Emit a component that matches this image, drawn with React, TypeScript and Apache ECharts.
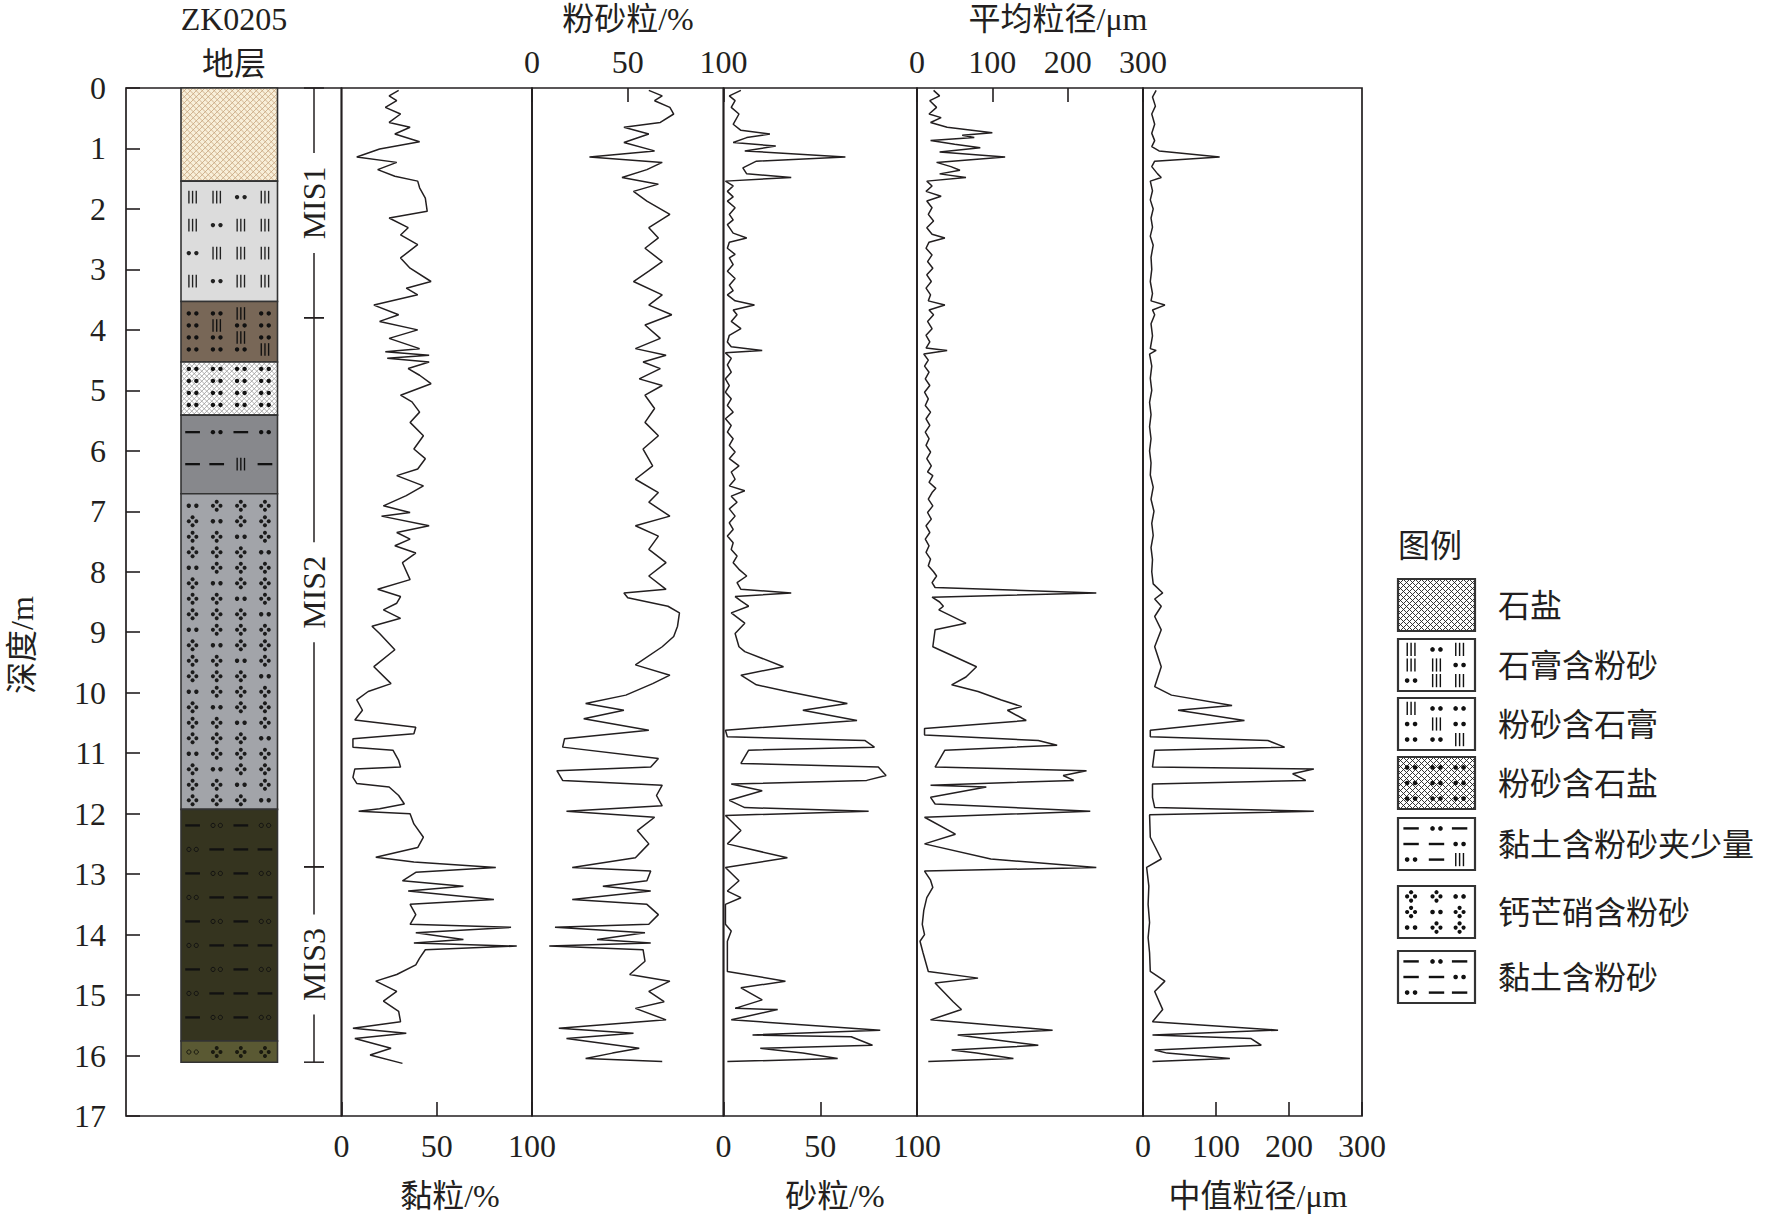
import { useEffect, useRef } from "react";
import * as echarts from "echarts";

const FONT = "'Liberation Serif', 'Noto Sans CJK SC', serif";
const INK = "#231f20";

// [深度 m, 数值]
const clay: number[][] = [
  [0.04, 30], [0.13, 25], [0.21, 29], [0.32, 23], [0.43, 31], [0.57, 25], [0.65, 36], [0.76, 28], [0.89, 41], [1.01, 20],
  [1.14, 8], [1.23, 29], [1.35, 19], [1.46, 28], [1.54, 40], [1.65, 41], [1.82, 44], [2.04, 45], [2.15, 25], [2.31, 35],
  [2.43, 31], [2.59, 40], [2.81, 31], [2.98, 36], [3.2, 47], [3.31, 34], [3.42, 40], [3.59, 17], [3.75, 30], [3.86, 20],
  [4.0, 40], [4.14, 25], [4.31, 41], [4.36, 23], [4.42, 46], [4.47, 24], [4.53, 46], [4.64, 35], [4.75, 41], [4.89, 47],
  [5.08, 31], [5.19, 37], [5.36, 41], [5.53, 36], [5.75, 43], [5.97, 38], [6.13, 44], [6.3, 40], [6.41, 29], [6.58, 43],
  [6.74, 34], [6.91, 22], [7.02, 36], [7.08, 21], [7.24, 46], [7.35, 29], [7.46, 36], [7.57, 28], [7.69, 39], [7.85, 32],
  [8.13, 36], [8.29, 19], [8.41, 31], [8.52, 29], [8.63, 22], [8.77, 31], [8.9, 16], [9.02, 20], [9.29, 28], [9.57, 17],
  [9.85, 26], [9.98, 14], [10.12, 8], [10.29, 11], [10.45, 7], [10.57, 39], [10.68, 38], [10.76, 6], [10.9, 6], [10.95, 27],
  [11.12, 30], [11.23, 31], [11.26, 7], [11.4, 6], [11.5, 8], [11.56, 25], [11.7, 30], [11.84, 33], [11.92, 20], [11.96, 9],
  [12.0, 36], [12.17, 38], [12.39, 43], [12.56, 40], [12.72, 18], [12.8, 38], [12.89, 81], [12.97, 39], [13.11, 32], [13.2, 64],
  [13.28, 35], [13.42, 80], [13.5, 36], [13.67, 39], [13.83, 36], [13.88, 89], [13.97, 39], [14.08, 64], [14.14, 38], [14.19, 92],
  [14.25, 44], [14.39, 41], [14.5, 39], [14.66, 29], [14.77, 18], [14.94, 29], [15.1, 22], [15.27, 30], [15.44, 31], [15.55, 6],
  [15.63, 34], [15.72, 7], [15.88, 26], [15.99, 15], [16.13, 32],
];

const silt: number[][] = [
  [0.04, 61], [0.13, 68], [0.21, 64], [0.32, 72], [0.43, 74], [0.57, 67], [0.65, 48], [0.76, 61], [0.9, 48], [1.04, 64],
  [1.14, 30], [1.23, 68], [1.35, 60], [1.48, 47], [1.59, 66], [1.71, 53], [1.87, 60], [2.09, 72], [2.31, 61], [2.48, 66],
  [2.65, 59], [2.87, 68], [3.03, 61], [3.2, 53], [3.42, 68], [3.59, 61], [3.75, 73], [3.92, 59], [4.14, 67], [4.31, 54],
  [4.42, 70], [4.53, 58], [4.64, 67], [4.81, 56], [4.92, 68], [5.08, 59], [5.3, 64], [5.53, 59], [5.75, 66], [5.97, 58],
  [6.25, 63], [6.47, 54], [6.69, 66], [6.85, 61], [7.08, 72], [7.24, 54], [7.41, 66], [7.63, 61], [7.85, 70], [8.07, 61],
  [8.29, 70], [8.35, 48], [8.43, 50], [8.57, 71], [8.68, 77], [8.9, 76], [9.07, 74], [9.24, 68], [9.54, 54], [9.71, 72],
  [9.85, 63], [10.04, 49], [10.18, 28], [10.29, 48], [10.43, 27], [10.62, 61], [10.76, 17], [10.9, 16], [11.09, 66], [11.23, 62],
  [11.29, 13], [11.45, 16], [11.53, 68], [11.7, 65], [11.87, 68], [11.96, 18], [12.06, 64], [12.28, 55], [12.5, 61], [12.73, 54],
  [12.89, 21], [12.95, 62], [13.11, 60], [13.2, 37], [13.28, 62], [13.42, 21], [13.5, 60], [13.67, 66], [13.83, 61], [13.88, 12],
  [13.97, 59], [14.08, 34], [14.14, 62], [14.19, 9], [14.25, 58], [14.44, 59], [14.66, 51], [14.77, 72], [14.94, 61], [15.11, 69],
  [15.22, 54], [15.41, 70], [15.55, 14], [15.63, 53], [15.72, 18], [15.88, 56], [15.96, 42], [16.05, 28], [16.1, 68],
];

const sand: number[][] = [
  [0.04, 9], [0.13, 3], [0.21, 6], [0.32, 4], [0.43, 8], [0.6, 5], [0.7, 9], [0.76, 24], [0.82, 12], [0.9, 5],
  [0.96, 27], [1.04, 11], [1.14, 63], [1.21, 17], [1.32, 10], [1.42, 12], [1.48, 35], [1.54, 1], [1.62, 5], [1.71, 2],
  [1.8, 5], [1.87, 2], [1.98, 6], [2.09, 3], [2.18, 5], [2.26, 2], [2.4, 5], [2.48, 12], [2.55, 3], [2.65, 2],
  [2.75, 6], [2.81, 3], [2.92, 5], [3.03, 2], [3.15, 6], [3.26, 3], [3.35, 5], [3.42, 2], [3.52, 6], [3.59, 16],
  [3.67, 5], [3.75, 7], [3.86, 4], [3.98, 9], [4.09, 3], [4.2, 2], [4.28, 4], [4.34, 20], [4.38, 1], [4.47, 4],
  [4.58, 2], [4.7, 4], [4.81, 1], [4.92, 3], [5.03, 1], [5.14, 4], [5.25, 2], [5.36, 5], [5.47, 1], [5.58, 4],
  [5.69, 2], [5.8, 5], [5.91, 3], [6.02, 6], [6.13, 3], [6.25, 8], [6.35, 4], [6.47, 6], [6.58, 3], [6.66, 11],
  [6.75, 4], [6.85, 7], [6.96, 3], [7.08, 6], [7.19, 3], [7.3, 5], [7.41, 2], [7.52, 5], [7.63, 4], [7.74, 7],
  [7.85, 5], [7.96, 8], [8.07, 12], [8.18, 7], [8.29, 9], [8.35, 35], [8.41, 6], [8.48, 9], [8.57, 13], [8.68, 4],
  [8.85, 11], [9.02, 6], [9.24, 8], [9.32, 11], [9.57, 31], [9.71, 9], [9.87, 17], [9.98, 33], [10.18, 64], [10.29, 41],
  [10.46, 69], [10.62, 1], [10.73, 2], [10.79, 73], [10.9, 78], [10.95, 13], [11.17, 9], [11.23, 80], [11.37, 84], [11.45, 74],
  [11.51, 4], [11.62, 20], [11.78, 3], [11.9, 11], [11.96, 75], [12.03, 1], [12.28, 9], [12.5, 2], [12.73, 33], [12.89, 1],
  [13.11, 8], [13.28, 2], [13.39, 9], [13.5, 1], [13.83, 1], [13.94, 4], [14.11, 2], [14.61, 2], [14.77, 32], [14.88, 9],
  [15.08, 20], [15.22, 6], [15.24, 28], [15.41, 4], [15.58, 81], [15.66, 15], [15.69, 66], [15.83, 77], [15.88, 19], [15.96, 41],
  [16.05, 59], [16.1, 2],
];

const meanSize: number[][] = [
  [0.04, 22], [0.13, 30], [0.21, 17], [0.32, 26], [0.43, 16], [0.49, 32], [0.57, 18], [0.65, 40], [0.74, 100], [0.78, 60],
  [0.82, 76], [0.87, 18], [0.93, 50], [0.99, 84], [1.06, 30], [1.14, 117], [1.23, 26], [1.3, 45], [1.36, 57], [1.42, 30],
  [1.48, 65], [1.54, 13], [1.62, 20], [1.71, 12], [1.79, 32], [1.87, 13], [1.98, 20], [2.09, 15], [2.2, 22], [2.31, 13],
  [2.42, 20], [2.48, 37], [2.55, 16], [2.65, 12], [2.76, 20], [2.87, 14], [2.98, 21], [3.09, 13], [3.2, 19], [3.31, 12],
  [3.42, 18], [3.52, 15], [3.59, 37], [3.67, 16], [3.75, 22], [3.86, 14], [3.98, 20], [4.09, 12], [4.2, 17], [4.3, 12],
  [4.34, 40], [4.4, 9], [4.5, 15], [4.6, 10], [4.7, 16], [4.81, 11], [4.92, 17], [5.03, 10], [5.14, 15], [5.25, 11],
  [5.36, 18], [5.47, 12], [5.58, 17], [5.69, 11], [5.8, 16], [5.91, 12], [6.02, 18], [6.13, 13], [6.25, 19], [6.35, 14],
  [6.41, 21], [6.52, 16], [6.62, 25], [6.69, 20], [6.8, 15], [6.91, 21], [7.02, 14], [7.13, 19], [7.24, 12], [7.35, 17],
  [7.46, 11], [7.57, 16], [7.68, 12], [7.79, 18], [7.9, 15], [8.0, 22], [8.07, 26], [8.18, 20], [8.26, 24], [8.35, 238],
  [8.42, 20], [8.5, 30], [8.57, 35], [8.63, 29], [8.85, 65], [8.96, 24], [9.24, 21], [9.57, 79], [9.74, 65], [9.87, 46],
  [9.98, 81], [10.12, 112], [10.23, 139], [10.29, 120], [10.46, 145], [10.59, 10], [10.7, 10], [10.79, 161], [10.87, 186], [10.95, 37],
  [11.23, 24], [11.29, 225], [11.37, 194], [11.45, 208], [11.53, 18], [11.56, 92], [11.73, 18], [11.84, 24], [11.96, 230], [12.06, 10],
  [12.34, 51], [12.5, 10], [12.75, 98], [12.89, 238], [12.95, 10], [13.1, 18], [13.22, 21], [13.39, 13], [13.6, 9], [13.83, 7],
  [14.0, 10], [14.11, 4], [14.3, 8], [14.61, 15], [14.72, 81], [14.8, 24], [15.11, 48], [15.24, 59], [15.41, 18], [15.58, 180],
  [15.66, 54], [15.83, 161], [15.91, 46], [15.96, 79], [16.05, 128], [16.1, 15],
];

const medianSize: number[][] = [
  [0.04, 18], [0.15, 13], [0.3, 17], [0.43, 12], [0.6, 16], [0.75, 12], [0.87, 16], [0.97, 12], [1.04, 22], [1.14, 105],
  [1.21, 16], [1.3, 12], [1.42, 20], [1.48, 25], [1.54, 10], [1.7, 13], [1.85, 10], [2.0, 14], [2.15, 11], [2.3, 13],
  [2.45, 10], [2.6, 14], [2.8, 11], [3.0, 12], [3.2, 10], [3.4, 13], [3.52, 11], [3.59, 30], [3.67, 13], [3.75, 16],
  [3.9, 11], [4.1, 13], [4.31, 10], [4.34, 18], [4.4, 9], [4.6, 12], [4.8, 10], [5.0, 12], [5.2, 9], [5.4, 11],
  [5.6, 9], [5.8, 11], [6.0, 9], [6.2, 11], [6.4, 10], [6.6, 14], [6.8, 11], [7.0, 15], [7.2, 12], [7.4, 14],
  [7.6, 11], [7.8, 13], [8.0, 12], [8.2, 14], [8.35, 27], [8.45, 16], [8.57, 25], [8.74, 16], [8.96, 25], [9.24, 16],
  [9.57, 25], [9.9, 16], [10.04, 39], [10.21, 122], [10.29, 48], [10.46, 139], [10.62, 10], [10.73, 10], [10.79, 171], [10.9, 194],
  [10.95, 16], [11.23, 13], [11.26, 234], [11.34, 205], [11.45, 223], [11.51, 13], [11.73, 13], [11.9, 16], [11.96, 234], [12.02, 9],
  [12.39, 10], [12.75, 25], [12.89, 5], [13.2, 8], [13.5, 7], [13.8, 9], [14.05, 7], [14.3, 9], [14.61, 10], [14.77, 30],
  [14.94, 16], [15.24, 27], [15.44, 13], [15.58, 185], [15.66, 13], [15.72, 148], [15.83, 162], [15.91, 16], [15.96, 33], [16.05, 119],
  [16.1, 13],
];

const pctTicks = [0, 50, 100];
const sizeTicks = [0, 100, 200, 300];
const depthTicks = [0, 17];

// 地层柱
const layerTop = [0, 1.54, 3.53, 4.53, 5.41, 6.71, 11.93, 15.76];
const layerBase = [1.54, 3.53, 4.53, 5.41, 6.71, 11.93, 15.76, 16.11];
const layerLith = ["salt", "gypsumSilt", "siltGypsum", "siltSalt", "clayLittle", "glauberite", "claySilt", "glauberiteOlive"];

const misNames = ["MIS1", "MIS2", "MIS3"];
const misTop = [0, 3.8, 12.88];
const misBase = [3.8, 12.88, 16.11];

const legendLith = ["salt", "gypsumSilt", "siltGypsum", "siltSalt", "clayLittle", "glauberite", "claySilt"];
const legendNames = ["石盐", "石膏含粉砂", "粉砂含石膏", "粉砂含石盐", "黏土含粉砂夹少量", "钙芒硝含粉砂", "黏土含粉砂"];

type Look = { fill: string; hatch?: string; hatchGap?: number; rows: string[]; gap: number; first: number; ink: string };

const columnLook: Record<string, Look> = {
  salt: { fill: "#f8efd9", hatch: "#c6a57e", hatchGap: 6, rows: [], gap: 10, first: 10, ink: INK },
  gypsumSilt: { fill: "#dcdcdc", rows: ["bbdb", "bdbb", "dbbb", "bdbb"], gap: 28, first: 16, ink: "#222" },
  siltGypsum: { fill: "#786757", rows: ["ddbd", "dbdd", "ddbd", "dddb"], gap: 12, first: 12, ink: "#111" },
  siltSalt: { fill: "#ffffff", hatch: "#999", hatchGap: 5, rows: ["dddd"], gap: 12, first: 7, ink: "#111" },
  clayLittle: { fill: "#87888c", rows: ["-d-d", "--b-"], gap: 32, first: 17, ink: "#111" },
  glauberite: { fill: "#a2a4a9", rows: ["dccc", "cdcc", "ccdc", "cccd"], gap: 15.5, first: 12, ink: "#1b1b1b" },
  claySilt: { fill: "#35341f", rows: ["-o-o", "o---"], gap: 24, first: 16, ink: "#111" },
  glauberiteOlive: { fill: "#5a5933", rows: ["occc"], gap: 20, first: 11, ink: "#1a1a10" },
};

const legendRows: Record<string, string[]> = {
  salt: [],
  gypsumSilt: ["bdb", "bbd", "dbb"],
  siltGypsum: ["bdd", "dbd", "ddb"],
  siltSalt: ["ddd", "ddd", "ddd"],
  clayLittle: ["-d-", "--d", "d-b"],
  glauberite: ["ccd", "cdc", "dcc"],
  claySilt: ["-d-", "--d", "d--"],
};

function seg(x1: number, y1: number, x2: number, y2: number, stroke: string, lineWidth: number) {
  return { type: "line", shape: { x1, y1, x2, y2 }, style: { stroke, lineWidth } };
}

function dot(cx: number, cy: number, r: number, ink: string, hollow = false) {
  return {
    type: "circle",
    shape: { cx, cy, r },
    style: hollow ? { fill: "none", stroke: ink, lineWidth: 1 } : { fill: ink },
  };
}

function symbol(code: string, cx: number, cy: number, ink: string, k: number): any[] {
  const out: any[] = [];
  if (code === "b") {
    for (const dx of [-3.5, 0, 3.5]) out.push(seg(cx + dx * k, cy - 6 * k, cx + dx * k, cy + 6 * k, ink, 1.3 * k));
  } else if (code === "d") {
    out.push(dot(cx - 3.6 * k, cy, 2.1 * k, ink), dot(cx + 3.6 * k, cy, 2.1 * k, ink));
  } else if (code === "o") {
    out.push(dot(cx - 3.5 * k, cy, 2 * k, ink, true), dot(cx + 3.5 * k, cy, 2 * k, ink, true));
  } else if (code === "-") {
    out.push(seg(cx - 7 * k, cy, cx + 7 * k, cy, ink, 2.2 * k));
  } else if (code === "c") {
    for (const [dx, dy] of [[0, -3.8], [-3.6, 0], [3.6, 0], [0, 3.8]]) out.push(dot(cx + dx * k, cy + dy * k, 1.9 * k, ink));
  }
  return out;
}

function hatch(x: number, y: number, w: number, h: number, gap: number, stroke: string, lw: number): any[] {
  const out: any[] = [];
  for (let c = -w; c <= h; c += gap) {
    const u1 = Math.max(0, -c);
    const u2 = Math.min(w, h - c);
    if (u2 > u1) out.push(seg(x + u1, y + u1 + c, x + u2, y + u2 + c, stroke, lw));
  }
  for (let c = 0; c <= w + h; c += gap) {
    const u1 = Math.max(0, c - h);
    const u2 = Math.min(w, c);
    if (u2 > u1) out.push(seg(x + u1, y + c - u1, x + u2, y + c - u2, stroke, lw));
  }
  return out;
}

function columnBlock(kind: string, x: number, y: number, w: number, h: number): any[] {
  const look = columnLook[kind];
  const els: any[] = [{ type: "rect", shape: { x, y, width: w, height: h }, style: { fill: look.fill } }];
  if (look.hatch) els.push(...hatch(x, y, w, h, look.hatchGap || 6, look.hatch, 0.8));
  const cols = [0.12, 0.37, 0.62, 0.87];
  let r = 0;
  for (let yy = y + look.first; look.rows.length && yy < y + h - 3; yy += look.gap, r++) {
    const row = look.rows[r % look.rows.length];
    for (let i = 0; i < row.length; i++) els.push(...symbol(row[i], x + cols[i] * w, yy, look.ink, 1.05));
  }
  els.push({ type: "rect", shape: { x, y, width: w, height: h }, style: { fill: "none", stroke: "#333", lineWidth: 1.6 } });
  return els;
}

function legendBlock(kind: string, x: number, y: number, w: number, h: number): any[] {
  const els: any[] = [{ type: "rect", shape: { x, y, width: w, height: h }, style: { fill: "#fff" } }];
  if (kind === "salt" || kind === "siltSalt") els.push(...hatch(x, y, w, h, 6, "#222", 0.9));
  const rows = legendRows[kind];
  const cols = [0.17, 0.5, 0.8];
  const rowsY = [0.2, 0.5, 0.8];
  rows.forEach((row, r) => {
    for (let i = 0; i < row.length; i++) els.push(...symbol(row[i], x + cols[i] * w, y + rowsY[r] * h, "#111", 1.1));
  });
  els.push({ type: "rect", shape: { x, y, width: w, height: h }, style: { fill: "none", stroke: "#333", lineWidth: 2.2 } });
  return els;
}

const gridBoxes = [
  { left: 126, width: 215.5 },
  { left: 341.5, width: 190.5 },
  { left: 532, width: 191.5 },
  { left: 723.5, width: 193.5 },
  { left: 917, width: 226 },
  { left: 1143, width: 219 },
];

const labelStyle = { fontSize: 32, fontFamily: FONT, color: INK };

function valueAxis(gridIndex: number, ticks: number[], position: "top" | "bottom") {
  return {
    gridIndex,
    type: "value",
    position,
    min: ticks[0],
    max: ticks[ticks.length - 1],
    interval: ticks[1] - ticks[0],
    axisLine: { show: false, onZero: false },
    axisTick: { show: true, inside: true, length: 14, lineStyle: { color: INK, width: 1.6 } },
    axisLabel: { ...labelStyle, margin: position === "top" ? 10 : 14, showMinLabel: true, showMaxLabel: true },
    splitLine: { show: false },
  };
}

function lineSeries(idx: number, data: number[][]) {
  return {
    type: "line",
    xAxisIndex: idx,
    yAxisIndex: idx,
    data: data.map(([d, v]) => [v, d]),
    symbol: "none",
    lineStyle: { color: INK, width: 1.5 },
    silent: true,
  };
}

function text(t: string, x: number, y: number, extra: any = {}) {
  return {
    type: "text",
    x,
    y,
    ...extra,
    style: { text: t, fontSize: 32, fontFamily: FONT, fill: INK, align: "center", verticalAlign: "middle", ...(extra.style || {}) },
  };
}

export default function App() {
  const ref = useRef<HTMLDivElement>(null);

  useEffect(() => {
    document.body.style.margin = "0";
    if (!ref.current) return;
    const chart = echarts.init(ref.current, null, { renderer: "svg" });

    const legendTop = [579, 639, 698, 757, 818, 886, 951];
    const legendGraphics: any[] = [];
    legendLith.forEach((kind, i) => {
      legendGraphics.push({ type: "group", children: legendBlock(kind, 1398, legendTop[i], 77, 52) });
      legendGraphics.push(text(legendNames[i], 1498, legendTop[i] + 27, { style: { align: "left" } }));
    });

    const option: any = {
      animation: false,
      backgroundColor: "#fff",
      grid: gridBoxes.map((g) => ({
        left: g.left,
        width: g.width,
        top: 88,
        height: 1028,
        show: true,
        borderColor: INK,
        borderWidth: 1.7,
        backgroundColor: "transparent",
      })),
      xAxis: [
        { gridIndex: 0, type: "value", min: 0, max: 1, show: false },
        valueAxis(1, pctTicks, "bottom"),
        valueAxis(2, pctTicks, "top"),
        valueAxis(3, pctTicks, "bottom"),
        valueAxis(4, sizeTicks, "top"),
        valueAxis(5, sizeTicks, "bottom"),
      ],
      yAxis: gridBoxes.map((_, i) =>
        i === 0
          ? {
              gridIndex: 0,
              type: "value",
              inverse: true,
              min: depthTicks[0],
              max: depthTicks[1],
              interval: 1,
              axisLine: { show: false, onZero: false },
              axisTick: { show: true, inside: true, length: 14, lineStyle: { color: INK, width: 1.6 } },
              axisLabel: { ...labelStyle, margin: 20, showMinLabel: true, showMaxLabel: true },
              splitLine: { show: false },
            }
          : { gridIndex: i, type: "value", inverse: true, min: depthTicks[0], max: depthTicks[1], show: false }
      ),
      series: [
        {
          type: "custom",
          xAxisIndex: 0,
          yAxisIndex: 0,
          silent: true,
          data: layerTop.map((t, i) => [t, layerBase[i]]),
          renderItem: (params: any, api: any) => {
            const cs = params.coordSys;
            const y1 = api.coord([0, api.value(0)])[1];
            const y2 = api.coord([0, api.value(1)])[1];
            return { type: "group", children: columnBlock(layerLith[params.dataIndex], cs.x + 55, y1, 96.5, y2 - y1) };
          },
        },
        {
          type: "custom",
          xAxisIndex: 0,
          yAxisIndex: 0,
          silent: true,
          data: misTop.map((t, i) => [t, misBase[i]]),
          renderItem: (params: any, api: any) => {
            const cs = params.coordSys;
            const xm = cs.x + 188;
            const y1 = api.coord([0, api.value(0)])[1];
            const y2 = api.coord([0, api.value(1)])[1];
            const ym = (y1 + y2) / 2;
            return {
              type: "group",
              children: [
                seg(xm, y1, xm, ym - 50, INK, 1.5),
                seg(xm, ym + 50, xm, y2, INK, 1.5),
                seg(xm - 10, y1, xm + 10, y1, INK, 1.5),
                seg(xm - 10, y2, xm + 10, y2, INK, 1.5),
                text(misNames[params.dataIndex], xm, ym, { rotation: Math.PI / 2 }),
              ],
            };
          },
        },
        lineSeries(1, clay),
        lineSeries(2, silt),
        lineSeries(3, sand),
        lineSeries(4, meanSize),
        lineSeries(5, medianSize),
      ],
      graphic: [
        text("ZK0205", 234, 19),
        text("地层", 234, 64),
        text("粉砂粒/%", 628, 19),
        text("平均粒径/μm", 1058, 19),
        text("黏粒/%", 450, 1196),
        text("砂粒/%", 835, 1196),
        text("中值粒径/μm", 1258, 1196),
        text("深度/m", 22, 645, { rotation: Math.PI / 2 }),
        text("图例", 1398, 546, { style: { align: "left" } }),
        ...legendGraphics,
      ],
    };

    chart.setOption(option);
    return () => chart.dispose();
  }, []);

  return <div ref={ref} style={{ width: 1765, height: 1218 }} />;
}
